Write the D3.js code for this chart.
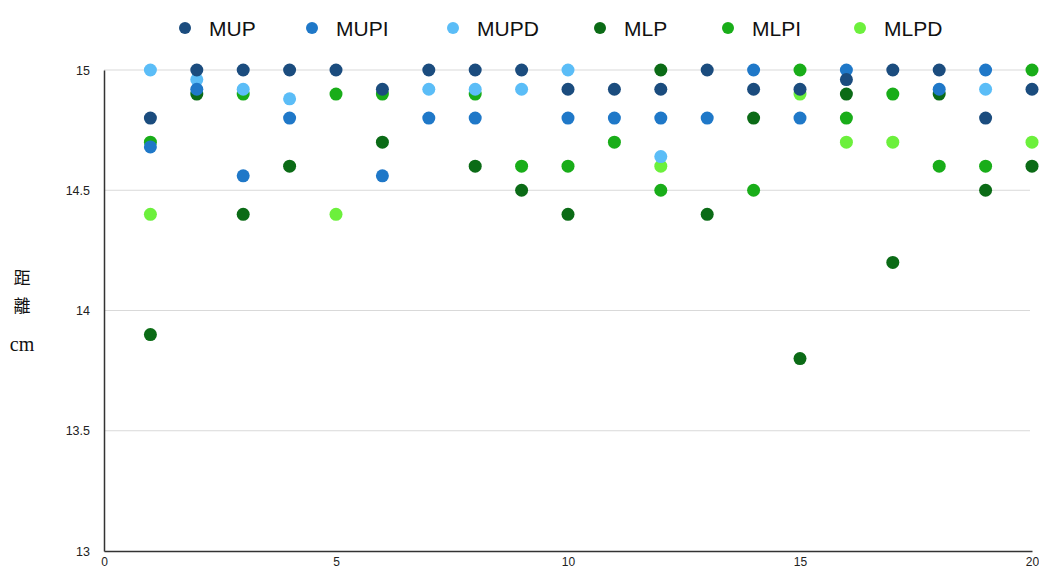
<!DOCTYPE html>
<html>
<head>
<meta charset="utf-8">
<script src="https://cdn.jsdelivr.net/npm/d3@7"></script>
<style>
  html, body { margin: 0; padding: 0; background: #fff; overflow: hidden; }
  svg { display: block; }
</style>
</head>
<body>
<div id="chart"></div>
<script>
// Trial numbers 1..20 on the x axis
const trials = d3.range(1, 21);

// Measured distances (cm) per method; null = no reading
const MUP  = [14.8, 15, 15, 15, 15, 14.92, 15, 15, 15, 14.92, 14.92, 14.92, 15, 14.92, 14.92, 14.96, 15, 15, 14.8, 14.92];
const MUPI = [14.68, 14.92, 14.56, 14.8, null, 14.56, 14.8, 14.8, null, 14.8, 14.8, 14.8, 14.8, 15, 14.8, 15, null, 14.92, 15, null];
const MUPD = [15, 14.96, 14.92, 14.88, null, null, 14.92, 14.92, 14.92, 15, null, 14.64, null, null, null, null, null, null, 14.92, null];
const MLP  = [13.9, 14.9, 14.4, 14.6, null, 14.7, null, 14.6, 14.5, 14.4, null, 15, 14.4, 14.8, 13.8, 14.9, 14.2, 14.9, 14.5, 14.6];
const MLPI = [14.7, null, 14.9, null, 14.9, 14.9, null, 14.9, 14.6, 14.6, 14.7, 14.5, null, 14.5, 15, 14.8, 14.9, 14.6, 14.6, 15];
const MLPD = [14.4, null, null, null, 14.4, null, null, null, null, null, null, 14.6, null, null, 14.9, 14.7, 14.7, null, null, 14.7];

const seriesNames = ["MUP", "MUPI", "MUPD", "MLP", "MLPI", "MLPD"];
const seriesValues = [MUP, MUPI, MUPD, MLP, MLPI, MLPD];
const seriesColors = ["#1b4c7e", "#1f78c8", "#5bbdf7", "#0b6b16", "#19ad19", "#6cf03c"];

const xTicks = [0, 5, 10, 15, 20];
const yTicks = [13, 13.5, 14, 14.5, 15];

const W = 1039, H = 572;
const margin = { left: 104, right: 7, top: 70, bottom: 21 };

const svg = d3.select("#chart").append("svg")
  .attr("width", W).attr("height", H);

const x = d3.scaleLinear().domain([0, 20]).range([margin.left, W - margin.right]);
const y = d3.scaleLinear().domain([13, 15]).range([H - margin.bottom, margin.top]);

// Horizontal gridlines
svg.append("g")
  .selectAll("line")
  .data(yTicks.filter(d => d > 13))
  .join("line")
  .attr("x1", x(0)).attr("x2", x(20) - 2)
  .attr("y1", d => y(d)).attr("y2", d => y(d))
  .attr("stroke", "#d9d9d9").attr("stroke-width", 1);

// Y axis
const yAxis = svg.append("g")
  .attr("transform", `translate(${x(0)},0)`)
  .call(d3.axisLeft(y).tickValues(yTicks).tickSize(0).tickPadding(14)
    .tickFormat(d => String(d)));
yAxis.select(".domain").attr("stroke", "#333").attr("stroke-width", 1.5);
yAxis.selectAll("text").attr("font-family", "Liberation Sans, Arial, sans-serif")
  .attr("font-size", 12.5).attr("fill", "#222");

// X axis
const xAxis = svg.append("g")
  .attr("transform", `translate(0,${y(13)})`)
  .call(d3.axisBottom(x).tickValues(xTicks).tickSize(0).tickPadding(6));
xAxis.select(".domain").attr("stroke", "#333").attr("stroke-width", 1.5);
xAxis.selectAll("text").attr("font-family", "Liberation Sans, Arial, sans-serif")
  .attr("font-size", 12).attr("fill", "#222");

// Y axis title, stacked vertically
const yTitle = svg.append("g").attr("fill", "#111");
yTitle.append("text").attr("x", 22).attr("y", 284).attr("text-anchor", "middle")
  .attr("font-family", "Noto Sans CJK TC, sans-serif").attr("font-size", 17).text("距");
yTitle.append("text").attr("x", 22).attr("y", 312).attr("text-anchor", "middle")
  .attr("font-family", "Noto Sans CJK TC, sans-serif").attr("font-size", 17).text("離");
yTitle.append("text").attr("x", 22).attr("y", 351).attr("text-anchor", "middle")
  .attr("font-family", "Liberation Serif, Times New Roman, serif").attr("font-size", 20).text("cm");

// Points: draw later series first so the MUP group sits on top
const plot = svg.append("g");
seriesNames.map((name, i) => ({ name, values: seriesValues[i], color: seriesColors[i] }))
  .reverse()
  .forEach(s => {
    plot.append("g")
      .selectAll("circle")
      .data(trials.map((t, j) => ({ t, v: s.values[j] })).filter(d => d.v !== null))
      .join("circle")
      .attr("cx", d => x(d.t))
      .attr("cy", d => y(d.v))
      .attr("r", 6.5)
      .attr("fill", s.color);
  });

// Legend
const legendX = [185, 312, 453, 600, 728, 860];
const legend = svg.append("g");
seriesNames.forEach((name, i) => {
  legend.append("circle").attr("cx", legendX[i]).attr("cy", 28).attr("r", 6)
    .attr("fill", seriesColors[i]);
  legend.append("text").attr("x", legendX[i] + 24).attr("y", 35.5)
    .attr("font-family", "Liberation Sans, Arial, sans-serif")
    .attr("font-size", 21).attr("fill", "#111").text(name);
});
</script>
</body>
</html>
